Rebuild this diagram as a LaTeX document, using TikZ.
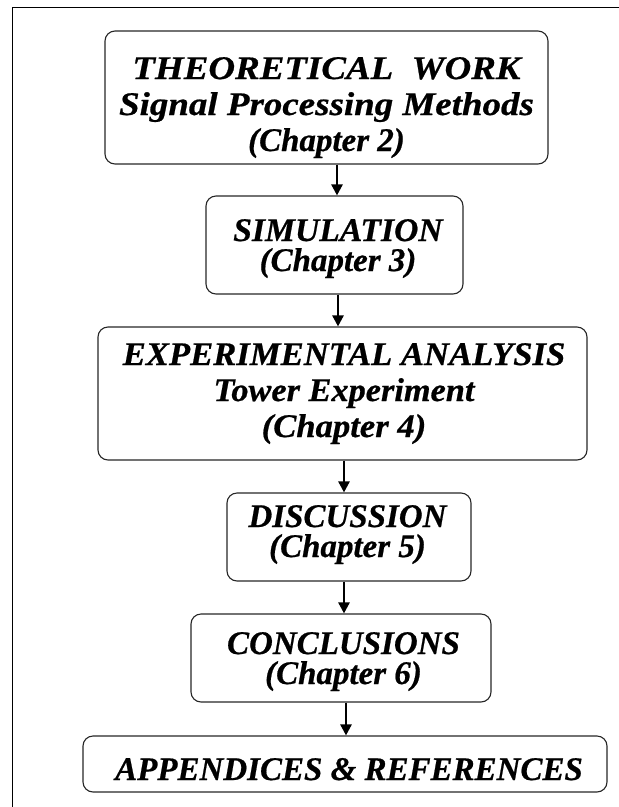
\documentclass[tikz,border=0pt]{standalone}
\usepackage{fontspec}
\setmainfont{Liberation Serif}[BoldItalicFeatures={FakeBold=0.6}]
\usetikzlibrary{arrows.meta}
\newcommand{\wide}[2]{\scalebox{#1}[1]{#2}}
\begin{document}
\begin{tikzpicture}[x=1pt,y=-1pt,
  chbox/.style={draw=black!85, line width=1.1pt, rounded corners=10pt, inner sep=0pt},
  chtext/.style={anchor=base, inner sep=0pt, align=center,
    font=\fontsize{33}{36}\selectfont\bfseries\itshape},
  tight/.style={font=\fontsize{33}{30}\selectfont\bfseries\itshape},
  flowarrow/.style={line width=2.4pt, -{Triangle[length=11pt,width=11pt]}},
  frameline/.style={line width=1.8pt}]
\useasboundingbox (0,0) rectangle (619,807);
\coordinate (fTL) at (12.5,7.5);
\coordinate (fTR) at (619,7.5);
\coordinate (fBL) at (12.5,807);
\draw[frameline] (fTR) -- (fTL) -- (fBL);

\node[chbox, minimum width=443pt, minimum height=133pt] (b1) at (326.5,97.5) {};
\node[chbox, minimum width=257pt, minimum height=98pt] (b2) at (334.5,245) {};
\node[chbox, minimum width=489pt, minimum height=133pt] (b3) at (342.5,393.5) {};
\node[chbox, minimum width=244pt, minimum height=88pt] (b4) at (349,537) {};
\node[chbox, minimum width=300pt, minimum height=88pt] (b5) at (341,658) {};
\node[chbox, minimum width=524pt, minimum height=56pt] (b6) at (345,764) {};

\node[chtext] (t1) at (326.5,151)
  {\wide{1.12}{THEORETICAL\ \ WORK}\\\wide{1.12}{Signal Processing Methods}\\(Chapter 2)};
\node[chtext, tight] (t2) at (338,271) {\wide{1.02}{SIMULATION}\\(Chapter 3)};
\node[chtext] (t3) at (344,437)
  {\wide{1.05}{EXPERIMENTAL ANALYSIS}\\\wide{1.04}{Tower Experiment}\\\wide{1.05}{(Chapter 4)}};
\node[chtext, tight] (t4) at (347.5,557) {DISCUSSION\\(Chapter 5)};
\node[chtext, tight] (t5) at (343.5,684) {CONCLUSIONS\\(Chapter 6)};
\node[chtext] (t6) at (349,780) {APPENDICES \& REFERENCES};

\coordinate (a1) at (337,0);
\coordinate (a2) at (338,0);
\coordinate (a3) at (344,0);
\coordinate (a4) at (344,0);
\coordinate (a5) at (346,0);
\draw[flowarrow] (b1.south -| a1) -- (b2.north -| a1);
\draw[flowarrow] (b2.south -| a2) -- (b3.north -| a2);
\draw[flowarrow] (b3.south -| a3) -- (b4.north -| a3);
\draw[flowarrow] (b4.south -| a4) -- (b5.north -| a4);
\draw[flowarrow] (b5.south -| a5) -- (b6.north -| a5);
\end{tikzpicture}
\end{document}
